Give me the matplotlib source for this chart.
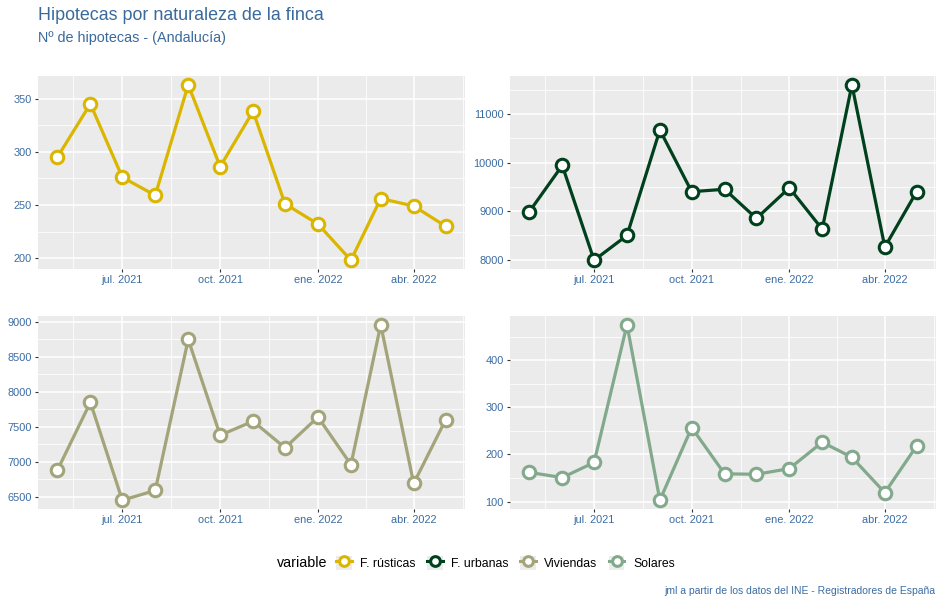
import pandas as pd
import matplotlib
matplotlib.use("Agg")
import matplotlib.pyplot as plt
import matplotlib.dates as mdates
from matplotlib.ticker import MultipleLocator, FixedLocator
from matplotlib.lines import Line2D
from matplotlib.patches import Patch
from matplotlib.legend_handler import HandlerTuple

plt.rcParams['font.family'] = ['Liberation Sans', 'DejaVu Sans']

# datos mensuales (mayo 2021 - mayo 2022)
months = pd.date_range('2021-05-01', periods=13, freq='MS')
rusticas = [295, 345, 276, 259, 363, 286, 338, 251, 232, 198, 256, 249, 230]
urbanas = [8990, 9940, 7990, 8500, 10670, 9400, 9450, 8850, 9480, 8630, 11600, 8260, 9400]
viviendas = [6880, 7850, 6450, 6590, 8750, 7380, 7580, 7200, 7640, 6960, 8960, 6690, 7600]
solares = [162, 151, 183, 475, 103, 257, 159, 158, 170, 226, 194, 119, 218]

series_names = ['F. rústicas', 'F. urbanas', 'Viviendas', 'Solares']
series_values = [rusticas, urbanas, viviendas, solares]
series_colors = ['#dab600', '#00401c', '#a3a47a', '#82a98c']
y_steps = [50, 1000, 500, 100]

x_tick_dates = pd.to_datetime(['2021-07-01', '2021-10-01', '2022-01-01', '2022-04-01'])
x_tick_labels = ['jul. 2021', 'oct. 2021', 'ene. 2022', 'abr. 2022']

TICK_COLOR = '#3b6ca4'
TITLE_COLOR = '#3a6a9c'

fig = plt.figure(figsize=(9.44, 6.07), dpi=100)
W, H = 944, 607

def px_axes(l, t, r, b):
    return fig.add_axes([l / W, 1 - b / H, (r - l) / W, (b - t) / H])

boxes = [(38, 76, 465, 269), (510, 76, 936, 269),
         (38, 316, 465, 509), (510, 316, 936, 509)]

# rejilla menor en x: puntos medios entre rupturas mayores
major_num = mdates.date2num(x_tick_dates)
step = major_num[1] - major_num[0]
minor_num = [major_num[0] - step / 2] + [(a + b) / 2 for a, b in zip(major_num[:-1], major_num[1:])] + [major_num[-1] + step / 2]

for box, vals, col, ystep in zip(boxes, series_values, series_colors, y_steps):
    ax = px_axes(*box)
    ax.set_facecolor('#ebebeb')
    for s in ax.spines.values():
        s.set_visible(False)
    ax.plot(months, vals, color=col, lw=2.3, marker='o', ms=9, mfc='white',
            mec=col, mew=2.2, zorder=3, clip_on=False)
    ax.xaxis.set_major_locator(FixedLocator(major_num))
    ax.xaxis.set_minor_locator(FixedLocator(minor_num))
    ax.set_xticklabels(x_tick_labels)
    ax.yaxis.set_major_locator(MultipleLocator(ystep))
    ax.yaxis.set_minor_locator(MultipleLocator(ystep / 2))
    ax.grid(which='major', color='white', lw=1.1)
    ax.grid(which='minor', color='white', lw=0.55)
    ax.set_axisbelow(True)
    ax.tick_params(which='major', length=2.5, width=0.8, color='#333333',
                   labelsize=7.9, labelcolor=TICK_COLOR, pad=2)
    ax.tick_params(which='minor', length=0)
    ax.margins(x=0.05, y=0.05)

fig.text(38 / W, 1 - 15 / H, 'Hipotecas por naturaleza de la finca', fontsize=12.9,
         color=TITLE_COLOR, ha='left', va='center')
fig.text(38 / W, 1 - 38 / H, 'Nº de hipotecas - (Andalucía)', fontsize=10.4,
         color=TITLE_COLOR, ha='left', va='center')

# leyenda inferior
fig.text(277 / W, 1 - 563 / H, 'variable', fontsize=10.3, color='black',
         ha='left', va='center')
handles = [(Patch(facecolor='#ececec', edgecolor='none'),
            Line2D([], [], color=c, lw=2.2, marker='o', ms=7, mfc='white', mec=c, mew=2.2))
           for c in series_colors]
fig.legend(handles, series_names, handler_map={tuple: HandlerTuple(ndivide=1, pad=0)},
           ncol=4, loc='center left', bbox_to_anchor=(336 / W, 1 - 563 / H),
           frameon=False, fontsize=8.8, handlelength=1.3, handleheight=1.5,
           columnspacing=0.9, handletextpad=0.7, borderpad=0, borderaxespad=0)

fig.text(935 / W, 1 - 591 / H, 'jml a partir de los datos del INE - Registradores de España',
         fontsize=7.5, color=TICK_COLOR, ha='right', va='center')

fig.savefig('out.png', dpi=100)
